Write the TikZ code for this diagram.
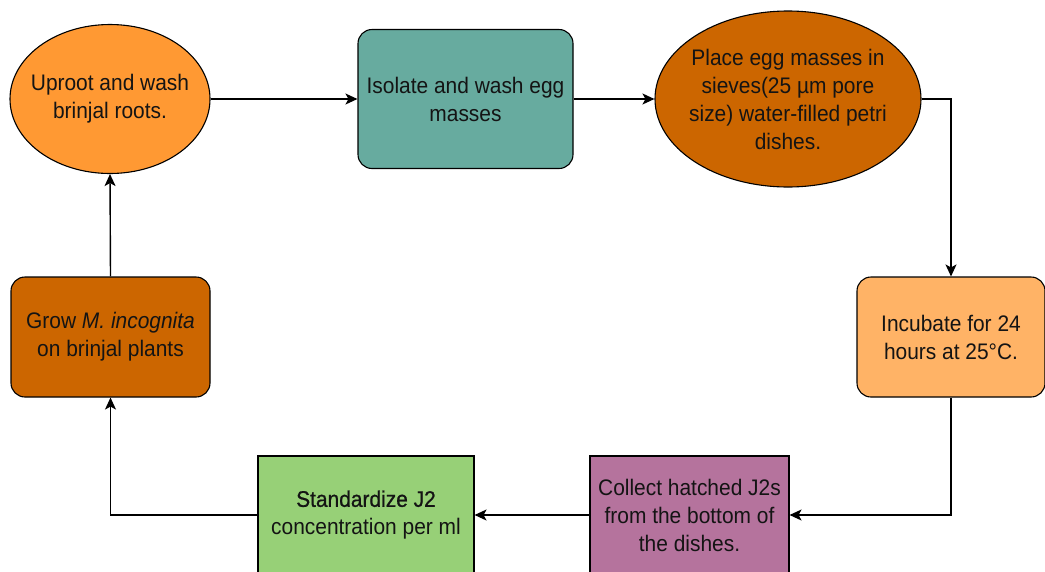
\documentclass[tikz,border=0pt]{standalone}
\usepackage{fontspec}
\setmainfont[FakeStretch=0.93]{Liberation Sans}
\newfontfamily\semibf[FakeStretch=0.93,FakeBold=0.8]{Liberation Sans}
\usetikzlibrary{shapes.geometric,arrows.meta}
\definecolor{cOrange}{HTML}{FF9933}
\definecolor{cTeal}{HTML}{67AB9F}
\definecolor{cDark}{HTML}{CC6600}
\definecolor{cLight}{HTML}{FFB366}
\definecolor{cPurple}{HTML}{B5739D}
\definecolor{cGreen}{HTML}{97D077}
\definecolor{cText}{HTML}{141414}
\begin{document}
\begin{tikzpicture}[x=1pt,y=-1pt,
  base/.style={draw=black, line width=1.1pt, text=cText, align=center, inner sep=0pt,
    font=\fontsize{22.5}{28}\selectfont},
  ell/.style={base, ellipse},
  txt/.style={text=cText, align=center, inner sep=0pt, font=\fontsize{22.5}{28}\selectfont},
  rbox/.style={base, rectangle, rounded corners=14pt},
  sbox/.style={base, rectangle},
  conn/.style={draw=black, line width=1.4pt, -{Stealth[length=12pt,width=11pt,inset=3pt]}}]
\useasboundingbox (0,0) rectangle (1045,571);
\node[ell, fill=cOrange, minimum width=200pt, minimum height=149pt] (uproot) at (110,99) {};
\node[txt] at (uproot.center) {Uproot and wash\\brinjal roots.};
\node[rbox, fill=cTeal, minimum width=215pt, minimum height=139pt] (isolate) at (465.5,99)
  {Isolate and wash egg\\masses};
\node[ell, fill=cDark, minimum width=266pt, minimum height=176pt] (place) at (788,99) {};
\node[txt] at (place.center) {Place egg masses in\\sieves(25 µm pore\\size) water-filled petri\\dishes.};
\node[rbox, fill=cLight, minimum width=188pt, minimum height=120pt] (incub) at (951,337)
  {Incubate for 24\\hours at 25°C.};
\node[sbox, fill=cPurple, minimum width=199pt, minimum height=118pt] (collect) at (689.5,515)
  {Collect hatched J2s\\from the bottom of\\the dishes.};
\node[sbox, fill=cGreen, minimum width=216pt, minimum height=118pt] (stand) at (366,515)
  {{\semibf Standardize J2}\\concentration per ml};
\node[rbox, fill=cDark, minimum width=199pt, minimum height=120pt] (grow) at (110.5,337)
  {Grow \textit{M. incognita}\\on brinjal plants};
\draw[conn] (uproot.east) -- (isolate.west);
\draw[conn] (isolate.east) -- (place.west);
\draw[conn] (place.east) -| (incub.north);
\draw[conn] (incub.south) |- (collect.east);
\draw[conn] (collect.west) -- (stand.east);
\draw[conn] (stand.west) -| (grow.south);
\draw[conn] (grow.north) -- (uproot.south);
\end{tikzpicture}
\end{document}
